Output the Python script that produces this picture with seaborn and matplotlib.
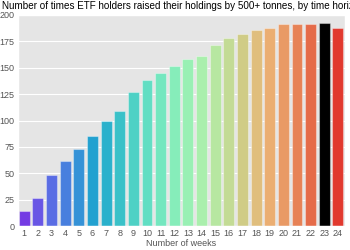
import matplotlib
matplotlib.use("Agg")
import matplotlib.pyplot as plt
import seaborn as sns
import pandas as pd

weeks = [str(i) for i in range(1, 25)]
counts = [14, 27, 48, 62, 73, 85, 100, 109, 127, 138, 145, 152,
          158, 161, 172, 178, 182, 186, 188, 191, 191, 191, 192, 188]
highlight = "23"
title = "Number of times ETF holders raised their holdings by 500+ tonnes, by time horizon"

plt.style.use("ggplot")
plt.rcParams['font.family'] = ['Liberation Sans', 'DejaVu Sans']

df = pd.DataFrame({"weeks": weeks, "count": counts})
pal = sns.color_palette("rainbow", len(weeks))
pal = [(0, 0, 0) if w == highlight else c for w, c in zip(weeks, pal)]

fig = plt.figure(figsize=(3.5, 2.5), dpi=100)
ax = fig.add_axes([0.05, 0.096, 0.935, 0.844])
sns.barplot(data=df, x="weeks", y="count", hue="weeks", palette=pal,
            legend=False, ax=ax, edgecolor=(1, 1, 1, 0.35), linewidth=0.8)
ax.set_ylim(0, 200)
ax.set_yticks(range(0, 201, 25))
ax.tick_params(labelsize=6.5, colors="#555555", length=0, pad=2)
ax.set_xlabel("Number of weeks", fontsize=6.5, color="#555555", labelpad=1)
ax.set_ylabel("")
# title is wider than the figure, cut at the right edge like the original
fig.text(0.006, 0.995, title, ha="left", va="top", fontsize=7.1, color="black")
fig.savefig("out.png", dpi=100)
